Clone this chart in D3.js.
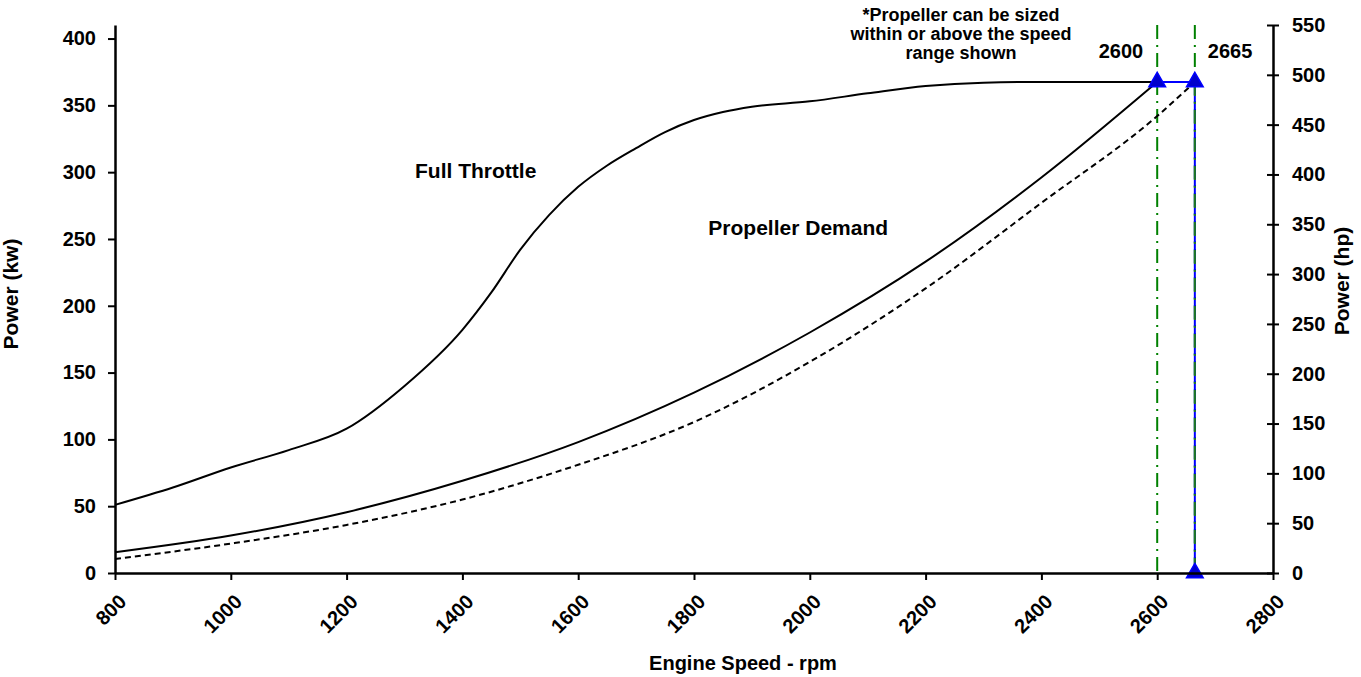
<!DOCTYPE html>
<html>
<head>
<meta charset="utf-8">
<script src="https://cdn.jsdelivr.net/npm/d3@7"></script>
<style>
  body { margin: 0; background: #fff; }
  text { font-family: "Liberation Sans", Arial, sans-serif; font-weight: bold; }
</style>
</head>
<body>
<script>
// full throttle curve (kW)
var throttleRpm = [800, 900, 1000, 1100, 1200, 1300, 1400, 1450, 1500, 1550, 1600, 1650, 1700, 1750, 1800, 1850, 1900, 2000, 2100, 2200, 2300, 2400, 2500, 2600]
var throttleKw = [51, 64, 79, 92, 108, 140, 182, 210, 242, 268, 289, 305, 318, 330, 339, 345, 349, 353, 359, 364.5, 367, 367.5, 367.5, 367.5]

// propeller demand (solid) and lower dashed curve (kW)
var propRpm = [800, 1000, 1200, 1400, 1600, 1800, 2000, 2200, 2400, 2600]
var propKw = [15.5, 28, 45.5, 69, 98, 135, 180, 233, 296, 367.5]
var dashRpm = [800, 1000, 1200, 1400, 1600, 1800, 2000, 2200, 2400, 2600, 2665]
var dashKw = [10.5, 22, 36, 55, 81, 113, 158, 213, 277, 342, 367.5]

var ratedRpm = [2600, 2665]
var ratedKw = 367.5
var kwToHp = 1.341

var note = ['*Propeller can be sized', 'within or above the speed', 'range shown']

var margin = {top: 25, right: 88, bottom: 104, left: 115}
var width = 1361 - margin.left - margin.right
var height = 677 - margin.top - margin.bottom

var x = d3.scaleLinear().domain([800, 2800]).range([0, width])
var yHp = d3.scaleLinear().domain([0, 550]).range([height, 0])
var y = d3.scaleLinear().domain([0, 550 / kwToHp]).range([height, 0])

var svg = d3.select('body').append('svg')
  .attr('width', 1361)
  .attr('height', 677)
  .append('g')
  .attr('transform', `translate(${margin.left}, ${margin.top})`)

// vertical guide lines
ratedRpm.forEach(function (r) {
  svg.append('line')
    .attr('x1', x(r)).attr('x2', x(r))
    .attr('y1', 0).attr('y2', height)
    .attr('stroke', '#008000').attr('stroke-width', 2)
    .attr('stroke-dasharray', '14,6,2,6')
})

var line = d3.line().curve(d3.curveMonotoneX)

svg.append('path')
  .attr('d', line(throttleRpm.map((r, i) => [x(r), y(throttleKw[i])])))
  .attr('fill', 'none').attr('stroke', '#000').attr('stroke-width', 2)

svg.append('path')
  .attr('d', line(propRpm.map((r, i) => [x(r), y(propKw[i])])))
  .attr('fill', 'none').attr('stroke', '#000').attr('stroke-width', 2)

svg.append('path')
  .attr('d', line(dashRpm.map((r, i) => [x(r), y(dashKw[i])])))
  .attr('fill', 'none').attr('stroke', '#000').attr('stroke-width', 2)
  .attr('stroke-dasharray', '6,4')

// blue rated point markers
var blue = [[ratedRpm[0], ratedKw], [ratedRpm[1], ratedKw], [ratedRpm[1], 0]]
svg.append('path')
  .attr('d', d3.line()(blue.map(d => [x(d[0]), y(d[1])])))
  .attr('fill', 'none').attr('stroke', '#0000ff').attr('stroke-width', 2)
svg.append('line')
  .attr('x1', x(ratedRpm[1])).attr('x2', x(ratedRpm[1]))
  .attr('y1', y(ratedKw)).attr('y2', height)
  .attr('stroke', '#1f7a1f').attr('stroke-width', 2)
  .attr('stroke-dasharray', '14,6,2,6')
svg.selectAll('.tri')
  .data(blue)
  .enter().append('path')
  .attr('class', 'tri')
  .attr('d', d3.symbol().type(d3.symbolTriangle).size(120))
  .attr('transform', d => `translate(${x(d[0])}, ${y(d[1])})`)
  .attr('fill', '#0000cc').attr('stroke', '#0000ff').attr('stroke-width', 1.5)

// axes
var fmt = d3.format('d')
var xAxis = svg.append('g')
  .attr('transform', `translate(0, ${height})`)
  .call(d3.axisBottom(x).tickValues(d3.range(800, 2801, 200)).tickFormat(fmt).tickSize(7).tickSizeOuter(0))
xAxis.selectAll('text')
  .attr('x', 0).attr('y', 0).attr('dx', 0).attr('dy', 0)
  .attr('text-anchor', 'end')
  .attr('transform', 'translate(12, 30) rotate(-45)')

var lAxis = svg.append('g')
  .call(d3.axisLeft(y).tickValues(d3.range(0, 401, 50)).tickFormat(fmt).tickSize(7).tickSizeOuter(0))
lAxis.selectAll('.tick text').attr('x', -19)

var rAxis = svg.append('g')
  .attr('transform', `translate(${width}, 0)`)
  .call(d3.axisRight(yHp).tickValues(d3.range(0, 551, 50)).tickFormat(fmt).tickSize(6).tickSizeOuter(0))
rAxis.selectAll('.tick line').attr('x1', -6)
rAxis.selectAll('.tick text').attr('x', 19)

svg.selectAll('.domain').attr('stroke-width', 2.5)
svg.selectAll('.tick line').attr('stroke-width', 2)
svg.selectAll('.tick text').attr('font-size', 20).attr('fill', '#000')

// labels
svg.append('text').attr('x', x(1423)).attr('y', y(296))
  .attr('text-anchor', 'middle').attr('font-size', 21).text('Full Throttle')
svg.append('text').attr('x', x(1980)).attr('y', y(253))
  .attr('text-anchor', 'middle').attr('font-size', 21).text('Propeller Demand')

note.forEach(function (t, i) {
  svg.append('text').attr('x', 961 - margin.left).attr('y', -4 + i * 19)
    .attr('text-anchor', 'middle').attr('font-size', 18).text(t)
})
svg.append('text').attr('x', x(2600) - 14).attr('y', 33)
  .attr('text-anchor', 'end').attr('font-size', 20).text('2600')
svg.append('text').attr('x', x(2665) + 13).attr('y', 33)
  .attr('text-anchor', 'start').attr('font-size', 20).text('2665')

svg.append('text')
  .attr('transform', `translate(${-97}, ${height / 2 - 5}) rotate(-90)`)
  .attr('text-anchor', 'middle').attr('font-size', 21).text('Power (kw)')
svg.append('text')
  .attr('transform', `translate(${width + 76}, ${height / 2 - 18}) rotate(-90)`)
  .attr('text-anchor', 'middle').attr('font-size', 21).text('Power (hp)')
svg.append('text')
  .attr('x', 743 - margin.left).attr('y', height + 97)
  .attr('text-anchor', 'middle').attr('font-size', 20).text('Engine Speed - rpm')
</script>
</body>
</html>
